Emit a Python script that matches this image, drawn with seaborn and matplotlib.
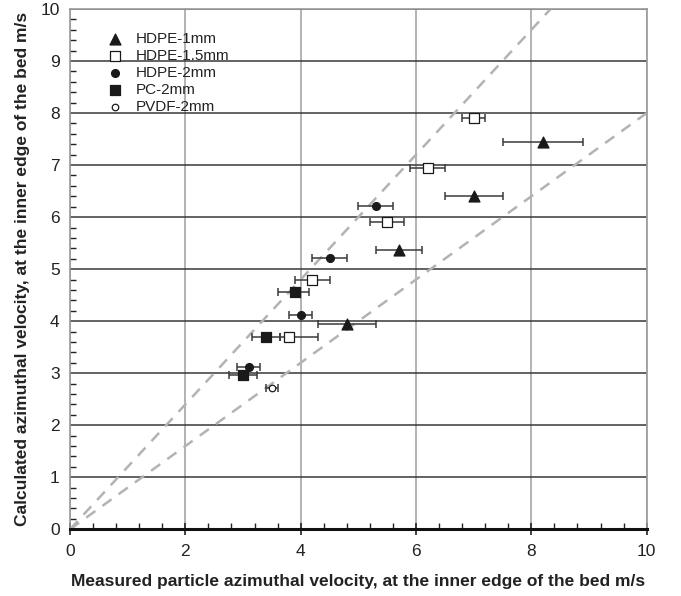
import numpy as np
import pandas as pd
import matplotlib
matplotlib.use("Agg")
import matplotlib.pyplot as plt
from matplotlib.ticker import MultipleLocator
import seaborn as sns

# ---- data ----
series_names = ["HDPE-1mm", "HDPE-1.5mm", "HDPE-2mm", "PC-2mm", "PVDF-2mm"]

hdpe1_x = [4.8, 5.7, 7.0, 8.2]
hdpe1_y = [3.94, 5.37, 6.41, 7.45]
hdpe1_lo = [4.3, 5.3, 6.5, 7.5]
hdpe1_hi = [5.3, 6.1, 7.5, 8.9]

hdpe15_x = [3.8, 4.2, 5.5, 6.2, 7.0]
hdpe15_y = [3.69, 4.79, 5.91, 6.95, 7.9]
hdpe15_lo = [3.65, 3.9, 5.2, 5.9, 6.8]
hdpe15_hi = [4.3, 4.5, 5.8, 6.5, 7.2]

hdpe2_x = [3.1, 4.0, 4.5, 5.3]
hdpe2_y = [3.12, 4.12, 5.22, 6.21]
hdpe2_lo = [2.9, 3.8, 4.2, 5.0]
hdpe2_hi = [3.3, 4.2, 4.8, 5.6]

pc2_x = [3.0, 3.4, 3.9]
pc2_y = [2.96, 3.69, 4.56]
pc2_lo = [2.75, 3.15, 3.6]
pc2_hi = [3.25, 3.65, 4.15]

pvdf2_x = [3.5]
pvdf2_y = [2.71]
pvdf2_lo = [3.4]
pvdf2_hi = [3.6]

ref_ratios = [1.2, 0.8]
ref_x = [0, 10]

x_ticks = [0, 2, 4, 6, 8, 10]
y_ticks = [0, 1, 2, 3, 4, 5, 6, 7, 8, 9, 10]

xlabel = "Measured particle azimuthal velocity, at the inner edge of the bed m/s"
ylabel = "Calculated azimuthal velocity, at the inner edge of the bed m/s"

# ---- styling ----
sns.set_theme(style="white")
plt.rcParams["font.family"] = ["Liberation Sans", "DejaVu Sans"]

fig = plt.figure(figsize=(6.81, 5.96), dpi=100)
ax = fig.add_axes([0.1028, 0.1119, 0.8468, 0.8730])

rows = []
data = [
    (series_names[0], hdpe1_x, hdpe1_y, hdpe1_lo, hdpe1_hi),
    (series_names[1], hdpe15_x, hdpe15_y, hdpe15_lo, hdpe15_hi),
    (series_names[2], hdpe2_x, hdpe2_y, hdpe2_lo, hdpe2_hi),
    (series_names[3], pc2_x, pc2_y, pc2_lo, pc2_hi),
    (series_names[4], pvdf2_x, pvdf2_y, pvdf2_lo, pvdf2_hi),
]
for name, xs, ys, lo, hi in data:
    for a, b, l, h in zip(xs, ys, lo, hi):
        rows.append(dict(series=name, x=a, y=b, lo=l, hi=h))
df = pd.DataFrame(rows)

# reference lines (+/-20%)
for r in ref_ratios:
    sns.lineplot(x=np.array(ref_x, float), y=np.array(ref_x, float) * r, ax=ax,
                 color="#b3b3b3", linestyle=(0, (4.5, 3.5)), linewidth=1.8, zorder=2)

# error bars
for name in series_names:
    d = df[df.series == name]
    ax.errorbar(d.x, d.y, xerr=[d.x - d.lo, d.hi - d.x], fmt="none",
                ecolor="#3a3a3a", elinewidth=1.1, capsize=2.6, capthick=1.1, zorder=3)

styles = {
    "HDPE-1mm": dict(marker="^", s=62, facecolor="#1a1a1a", edgecolor="#1a1a1a"),
    "HDPE-1.5mm": dict(marker="s", s=48, facecolor="white", edgecolor="#1a1a1a"),
    "HDPE-2mm": dict(marker="o", s=32, facecolor="#1a1a1a", edgecolor="#1a1a1a"),
    "PC-2mm": dict(marker="s", s=50, facecolor="#1a1a1a", edgecolor="#1a1a1a"),
    "PVDF-2mm": dict(marker="o", s=22, facecolor="white", edgecolor="#1a1a1a"),
}
for name in series_names:
    d = df[df.series == name]
    st = styles[name]
    sns.scatterplot(data=d, x="x", y="y", marker=st["marker"], s=st["s"],
                    color=st["facecolor"], edgecolor=st["edgecolor"], linewidth=0.9,
                    label=name, ax=ax, zorder=4)

ax.set_xlim(0, 10)
ax.set_ylim(0, 10)
ax.set_xticks(x_ticks)
ax.set_yticks(y_ticks)
ax.xaxis.set_minor_locator(MultipleLocator(0.4))
ax.yaxis.set_minor_locator(MultipleLocator(0.2))

ax.xaxis.grid(True, color="#a6a6a6", linewidth=1.2)
ax.yaxis.grid(True, color="#383838", linewidth=1.1)
ax.set_axisbelow(True)

ax.tick_params(axis="x", which="major", direction="inout", length=8, width=1.2,
               color="#222222", labelsize=12.5, pad=6.5, bottom=True, labelcolor="#222222")
ax.tick_params(axis="x", which="minor", direction="in", length=4, width=1,
               color="#222222", bottom=True)
ax.tick_params(axis="y", which="major", direction="in", length=0, labelsize=12.5, pad=7.5,
               left=True, labelcolor="#222222")
ax.tick_params(axis="y", which="minor", direction="in", length=4, width=1,
               color="#222222", left=True)

for s in ["top", "right", "left"]:
    ax.spines[s].set_color("#999999")
    ax.spines[s].set_linewidth(1.2)
ax.spines["bottom"].set_color("#111111")
ax.spines["bottom"].set_linewidth(2.2)
for s in ax.spines.values():
    s.set_visible(True)

ax.set_xlabel(xlabel, fontsize=12.5, fontweight="bold", labelpad=11, color="#222222")
ax.set_ylabel(ylabel, fontsize=12.5, fontweight="bold", labelpad=7.5, color="#222222")

leg = ax.legend(loc="upper left", bbox_to_anchor=(0.0624, 0.956), frameon=False,
                fontsize=11, handletextpad=0.78, labelspacing=0.2,
                borderaxespad=0, borderpad=0, handlelength=1.2)
for t in leg.get_texts():
    t.set_color("#222222")

fig.savefig("out.png", dpi=100)
